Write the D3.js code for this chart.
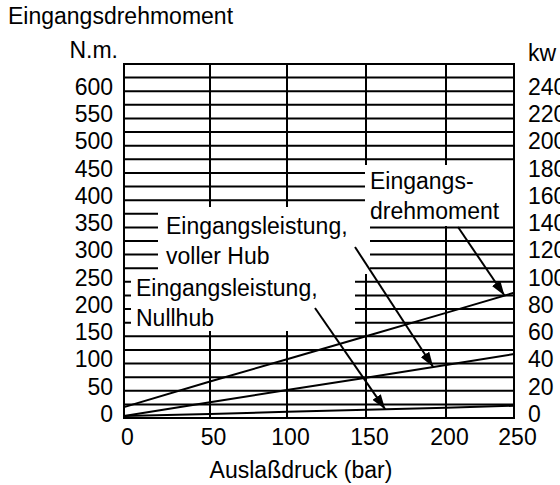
<!DOCTYPE html>
<html>
<head>
<meta charset="utf-8">
<script src="https://cdn.jsdelivr.net/npm/d3@7"></script>
<style>
body { margin: 0; background: #fff; }
svg text { font-family: "Liberation Sans", Arial, sans-serif; font-size: 23px; fill: #000; }
.grid { stroke: #000; stroke-width: 2; }
.curve { fill: none; stroke: #000; stroke-width: 2; }
.arrow { stroke: #000; stroke-width: 2; }
</style>
</head>
<body>
<div id="chart"></div>
<script>
// values
var pressure = [0, 50, 100, 150, 200, 250];            // bar
var torque = [20, 67, 108, 150, 193, 230];             // N.m.
var powerFull = [1.5, 11.5, 20.5, 29.5, 39, 47];       // kW, voller Hub
var powerZero = [1.5, 3, 4.5, 6, 7.5, 9];              // kW, Nullhub

var xTicks = [0, 50, 100, 150, 200, 250];
var nmTicks = [0, 50, 100, 150, 200, 250, 300, 350, 400, 450, 500, 550, 600];
var kwTicks = [0, 20, 40, 60, 80, 100, 120, 140, 160, 180, 200, 220, 240];
var nmGrid = d3.range(0, 651, 25);

var width = 560;
var height = 485;

var svg = d3.select("#chart")
.append("svg")
.attr("width", width)
.attr("height", height);

// the printed grid is not quite even, so the bar scale follows it
var x = d3.scaleLinear().domain(xTicks).range([124, 210, 287, 366, 446, 514]);
var y = d3.scaleLinear().domain([0, 650]).range([418, 64]);
var yKw = d3.scaleLinear().domain([0, 260]).range([418, 64]);

// grid
svg.append("g")
.selectAll("line")
.data(nmGrid)
.enter()
.append("line")
.attr("class", "grid")
.attr("x1", x(0))
.attr("x2", x(250))
.attr("y1", function(d) { return y(d); })
.attr("y2", function(d) { return y(d); });

svg.append("g")
.selectAll("line")
.data(xTicks)
.enter()
.append("line")
.attr("class", "grid")
.attr("x1", function(d) { return x(d); })
.attr("x2", function(d) { return x(d); })
.attr("y1", y(0))
.attr("y2", y(650));

// label boxes cover the grid
var notes = [
    {lines: ["Eingangs-", "drehmoment"], box: [365, 165, 148, 61], text: [370, 189], from: [458, 227], values: torque, scale: y, at: 243},
    {lines: ["Eingangsleistung,", "voller Hub"], box: [158, 207, 212, 67], text: [166, 234], from: [355, 247], values: powerFull, scale: yKw, at: 192},
    {lines: ["Eingangsleistung,", "Nullhub"], box: [131, 273, 224, 58], text: [136, 296], from: [315, 308], values: powerZero, scale: yKw, at: 162}
];

notes.forEach(function(n) {
    svg.append("rect")
    .attr("x", n.box[0])
    .attr("y", n.box[1])
    .attr("width", n.box[2])
    .attr("height", n.box[3])
    .attr("fill", "#fff");
    n.lines.forEach(function(t, i) {
        svg.append("text")
        .attr("x", n.text[0])
        .attr("y", n.text[1] + i * 30)
        .text(t);
    });
});

// curves
var line = function(scale) {
    return d3.line()
    .x(function(d, i) { return x(pressure[i]); })
    .y(function(d) { return scale(d); });
};

svg.append("path").attr("class", "curve").attr("d", line(y)(torque));
svg.append("path").attr("class", "curve").attr("d", line(yKw)(powerFull));
svg.append("path").attr("class", "curve").attr("d", line(yKw)(powerZero));

// arrows
svg.append("defs")
.append("marker")
.attr("id", "head")
.attr("markerUnits", "userSpaceOnUse")
.attr("markerWidth", 16)
.attr("markerHeight", 10)
.attr("refX", 15)
.attr("refY", 5)
.attr("orient", "auto")
.append("path")
.attr("d", "M0,0 L15,5 L0,10 Z")
.attr("fill", "#000");

notes.forEach(function(n) {
    var v = d3.scaleLinear().domain(pressure).range(n.values)(n.at);
    svg.append("line")
    .attr("class", "arrow")
    .attr("x1", n.from[0])
    .attr("y1", n.from[1])
    .attr("x2", x(n.at))
    .attr("y2", n.scale(v))
    .attr("marker-end", "url(#head)");
});

// frame
svg.append("rect")
.attr("x", x(0))
.attr("y", y(650))
.attr("width", x(250) - x(0))
.attr("height", y(0) - y(650))
.attr("fill", "none")
.attr("stroke", "#000")
.attr("stroke-width", 2);

// axes, labels only
var left = svg.append("g")
.attr("transform", "translate(" + x(0) + ",0)")
.call(d3.axisLeft(y).tickValues(nmTicks).tickSize(0).tickPadding(11));
left.select(".domain").remove();
left.selectAll("text").attr("dy", "0.14em");

var right = svg.append("g")
.attr("transform", "translate(" + x(250) + ",0)")
.call(d3.axisRight(yKw).tickValues(kwTicks).tickSize(0).tickPadding(14));
right.select(".domain").remove();
right.selectAll("text").attr("dy", "0.14em");

var bottom = svg.append("g")
.attr("transform", "translate(0," + y(0) + ")")
.call(d3.axisBottom(x).tickValues(xTicks).tickSize(0).tickPadding(11));
bottom.select(".domain").remove();
bottom.selectAll("text").attr("dx", 3);

// titles
svg.append("text").attr("x", 8).attr("y", 24).text("Eingangsdrehmoment");
svg.append("text").attr("x", 118).attr("y", 58).attr("text-anchor", "end").text("N.m.");
svg.append("text").attr("x", 528).attr("y", 61).text("kw");
svg.append("text").attr("x", 301).attr("y", 478).attr("text-anchor", "middle").text("Auslaßdruck (bar)");
</script>
</body>
</html>
